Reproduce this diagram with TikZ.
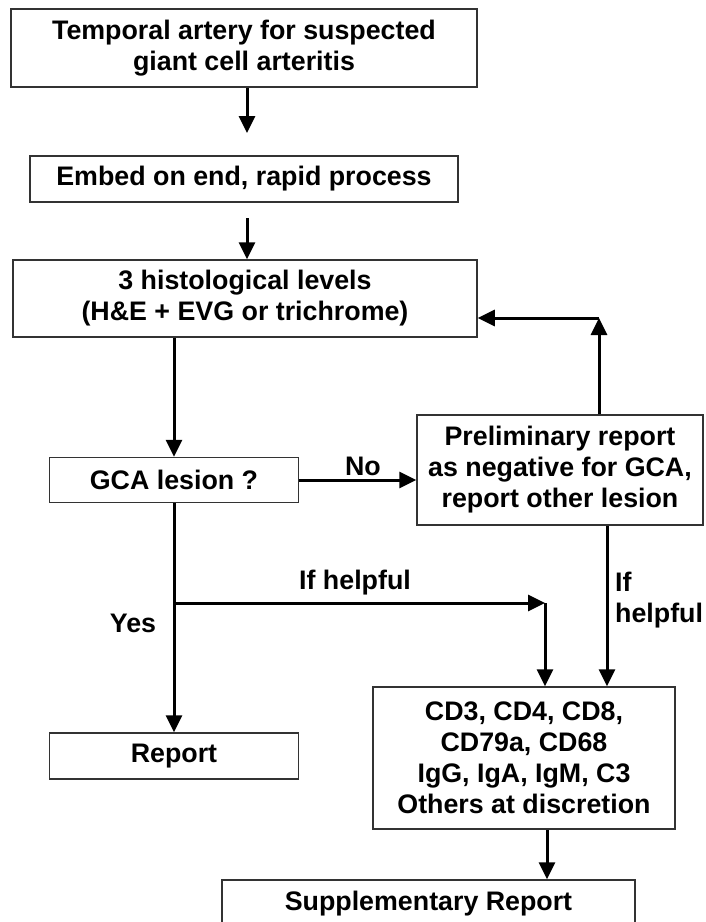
\documentclass[tikz,border=0pt]{standalone}
\usepackage{fontspec}
\setmainfont{Liberation Sans}
\usetikzlibrary{arrows.meta}
\begin{document}
\begin{tikzpicture}[x=1pt,y=-1pt,
  txt/.style={font=\bfseries\fontsize{26.8}{31}\selectfont},
  box/.style={txt, draw=black!80, line width=1.5pt, fill=white, inner sep=0pt, align=center},
  lbl/.style={txt, inner sep=0pt},
  arr/.style={line width=3pt, -{Triangle[length=17pt,width=16pt]}}]
\clip (0,0) rectangle (705,922);
\fill[white] (0,0) rectangle (705,922);
% nodes
\node[box, minimum width=466pt, minimum height=78pt] (b1) at (244,48) {Temporal artery for suspected\\giant cell arteritis};
\node[box, minimum width=428pt, minimum height=46pt] (b2) at (244,179) {Embed on end, rapid process};
\node[box, minimum width=464pt, minimum height=77pt] (b3) at (245,298.5) {3 histological levels\\(H\&E + EVG or trichrome)};
\node[box, minimum width=249pt, minimum height=45pt] (gca) at (174,480) {GCA lesion ?};
\node[box, minimum width=286pt, minimum height=110pt] (pre) at (560,470) {Preliminary report\\as negative for GCA,\\report other lesion};
\node[box, minimum width=249pt, minimum height=46pt] (rep) at (174,756) {Report};
\node[box, minimum width=302pt, minimum height=142pt] (cd) at (524,758) {CD3, CD4, CD8,\\CD79a, CD68\\IgG, IgA, IgM, C3\\Others at discretion};
\node[box, minimum width=413pt, minimum height=48pt] (sup) at (428.5,904) {Supplementary Report};
% labels
\node[lbl] (no) at (363,466) {No};
\node[lbl] (yes) at (133,623) {Yes};
\node[lbl] (ifh) at (355,583) {If helpful};
\node[lbl, anchor=west, align=left] (ifh2) at (615,600) {If\\helpful};
% connectors
\coordinate (t1) at (247,133);
\draw[arr] (b1.south -| t1) -- (t1);
\coordinate (s2) at (247,218);
\draw[arr] (s2) -- (b3.north -| s2);
\draw[arr] (b3.south -| gca) -- (gca.north);
\draw[arr] (gca.east) -- (gca.east -| pre.west);
\coordinate (c1) at (599,318);
\draw[arr] (pre.north -| c1) -- (c1);
\draw[arr] (c1) -- (c1 -| b3.east);
\draw[arr] (gca.south) -- (rep.north);
\coordinate (j) at (174,603);
\coordinate (k) at (545,603);
\draw[arr] (j) -- (k);
\draw[arr] (k) -- (k |- cd.north);
\coordinate (m) at (607,600);
\draw[arr] (pre.south -| m) -- (cd.north -| m);
\coordinate (s) at (547,850);
\draw[arr] (cd.south -| s) -- (sup.north -| s);
\end{tikzpicture}
\end{document}
